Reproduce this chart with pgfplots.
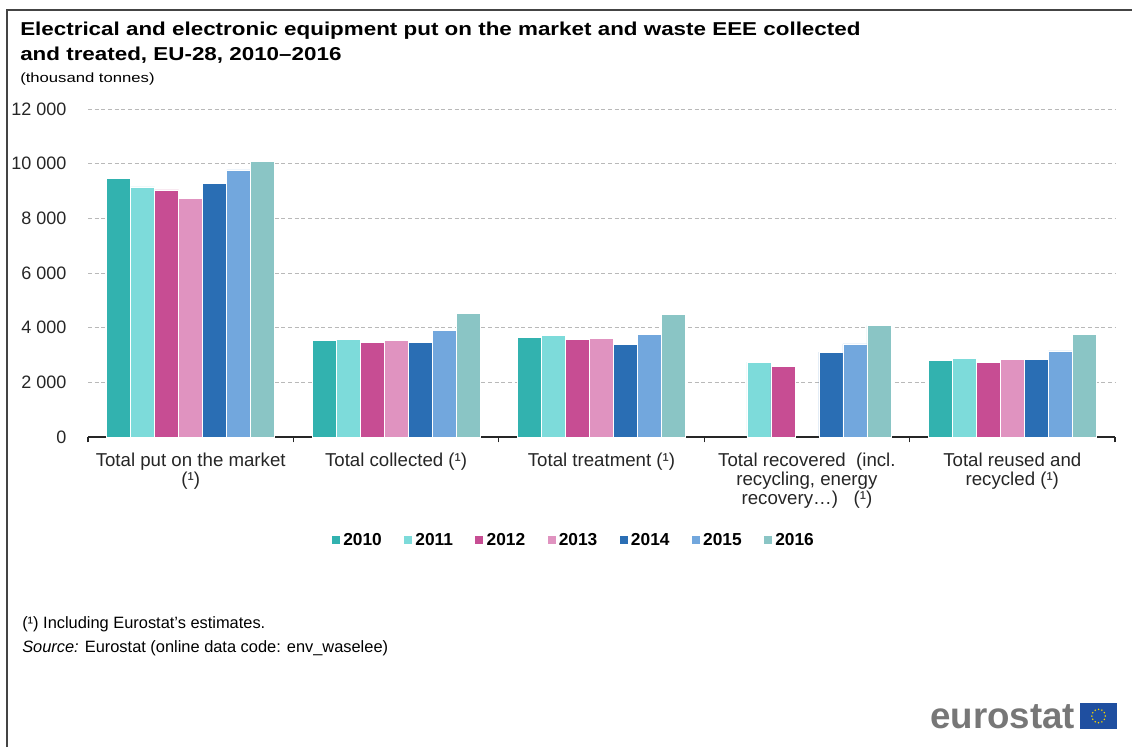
\documentclass[border=0pt]{standalone}
\usepackage{fontspec}
\setmainfont{Liberation Sans}
\newfontfamily\titlefont[FakeStretch=1.2]{Liberation Sans}
\newfontfamily\subfont[FakeStretch=1.25]{Liberation Sans}
\usepackage{pgfplots}
\pgfplotsset{compat=1.18}
\usepackage{pgfplotstable}

\definecolor{c2010}{HTML}{32B2AF}
\definecolor{c2011}{HTML}{7DDBDA}
\definecolor{c2012}{HTML}{C74D93}
\definecolor{c2013}{HTML}{E093C0}
\definecolor{c2014}{HTML}{2A6EB4}
\definecolor{c2015}{HTML}{72A7DD}
\definecolor{c2016}{HTML}{8AC5C5}
\definecolor{eublue}{HTML}{1F4FA0}
\definecolor{euyellow}{HTML}{F5D300}
\definecolor{framegray}{HTML}{444444}
\definecolor{logogray}{HTML}{777777}

% category index, value
\pgfplotstableread{
x y
0 9460
1 3525
2 3656
4 2790
}\tA
\pgfplotstableread{
x y
0 9155
1 3572
2 3715
3 2742
4 2888
}\tB
\pgfplotstableread{
x y
0 9045
1 3474
2 3558
3 2581
4 2742
}\tC
\pgfplotstableread{
x y
0 8739
1 3536
2 3620
4 2837
}\tD
\pgfplotstableread{
x y
0 9265
1 3474
2 3400
3 3108
4 2837
}\tE
\pgfplotstableread{
x y
0 9777
1 3890
2 3766
3 3411
4 3155
}\tF
\pgfplotstableread{
x y
0 10080
1 4512
2 4497
3 4080
4 3766
}\tG

\begin{document}
\begin{tikzpicture}
\useasboundingbox (0pt,0pt) rectangle (849pt,-560.25pt);
% frame
\draw[framegray, line width=1.5pt] (5.25pt,-560.25pt) -- (5.25pt,-7.5pt) -- (849pt,-7.5pt);
% titles
\node[anchor=base west, inner sep=0pt, font=\titlefont\fontsize{14}{16}\selectfont\bfseries] at (15pt,-26.25pt)
  {Electrical and electronic equipment put on the market and waste EEE collected};
\node[anchor=base west, inner sep=0pt, font=\titlefont\fontsize{14}{16}\selectfont\bfseries] at (15pt,-45pt)
  {and treated, EU-28, 2010–2016};
\node[anchor=base west, inner sep=0pt, font=\subfont\fontsize{10}{12}\selectfont] at (15pt,-61.5pt)
  {(thousand tonnes)};

\begin{axis}[
  at={(66pt,-327.75pt)}, anchor=south west,
  scale only axis, width=770.25pt, height=246pt,
  xmin=-0.5, xmax=4.5, ymin=0, ymax=12000,
  ybar=0pt, bar width=18pt,
  axis x line*=bottom, axis y line*=left,
  y axis line style={draw=none},
  x axis line style={black!85, line width=1.1pt},
  ytick={0,2000,4000,6000,8000,10000,12000},
  scaled y ticks=false,
  ytick style={draw=none},
  ymajorgrids, grid style={densely dashed, gray!55, line width=0.5pt},
  xtick={-0.5,0.5,1.5,2.5,3.5,4.5},
  xticklabels={},
  x tick style={black!85, line width=0.8pt},
  tick align=outside, major tick length=4pt,
  extra x ticks={0,1,2,3,4},
  extra x tick style={major tick length=0pt, grid=none},
  extra x tick labels={{Total put on the market\\(¹)},{Total collected (¹)},{Total treatment (¹)},{Total recovered\ \ (incl.\\recycling, energy\\recovery…)\ \ \ (¹)},{Total reused and\\recycled (¹)}},
  xticklabel style={align=center, font=\fontsize{14}{14.25}\selectfont, anchor=north, yshift=-8.5pt, text=black!85},
  yticklabel style={inner sep=0pt, anchor=east, xshift=-12pt, font=\fontsize{13.5}{15}\selectfont, text=black!85},
  /pgf/number format/assume math mode=true,
  /pgf/number format/1000 sep={\ },
  legend columns=7,
  legend style={at={(0.473,-0.314)}, anchor=center, draw=none, fill=none,
    font=\fontsize{13}{15}\selectfont\bfseries,
    /tikz/every even column/.append style={column sep=14pt},
    inner sep=0pt},
  legend image code/.code={\fill[#1] (0pt,-3.4pt) rectangle (6.8pt,3.4pt);},
  every axis plot/.append style={draw=white, line width=0.4pt},
]
\addplot[fill=c2010] table[x=x,y=y]{\tA};
\addplot[fill=c2011] table[x=x,y=y]{\tB};
\addplot[fill=c2012] table[x=x,y=y]{\tC};
\addplot[fill=c2013] table[x=x,y=y]{\tD};
\addplot[fill=c2014] table[x=x,y=y]{\tE};
\addplot[fill=c2015] table[x=x,y=y]{\tF};
\addplot[fill=c2016] table[x=x,y=y]{\tG};
\legend{2010,2011,2012,2013,2014,2015,2016}
\end{axis}

% footnotes
\node[anchor=base west, inner sep=0pt, font=\fontsize{12.3}{14}\selectfont] at (16.5pt,-471pt)
  {(¹) Including Eurostat's estimates.};
\node[anchor=base west, inner sep=0pt, font=\fontsize{12.3}{14}\selectfont] at (16.5pt,-489pt)
  {\textit{Source:} Eurostat (online data code: env\_waselee)};

% logo
\node[anchor=base west, inner sep=0pt, font=\fontsize{27.5}{30}\selectfont\bfseries, text=logogray] at (697.5pt,-546pt) {eurostat};
\fill[eublue] (810pt,-527.25pt) rectangle (837.75pt,-546.75pt);
\foreach \a in {0,30,...,330} {
  \fill[euyellow, shift={(823.9pt,-537pt)}] (\a:5pt) circle (0.65pt);
}
\end{tikzpicture}
\end{document}
